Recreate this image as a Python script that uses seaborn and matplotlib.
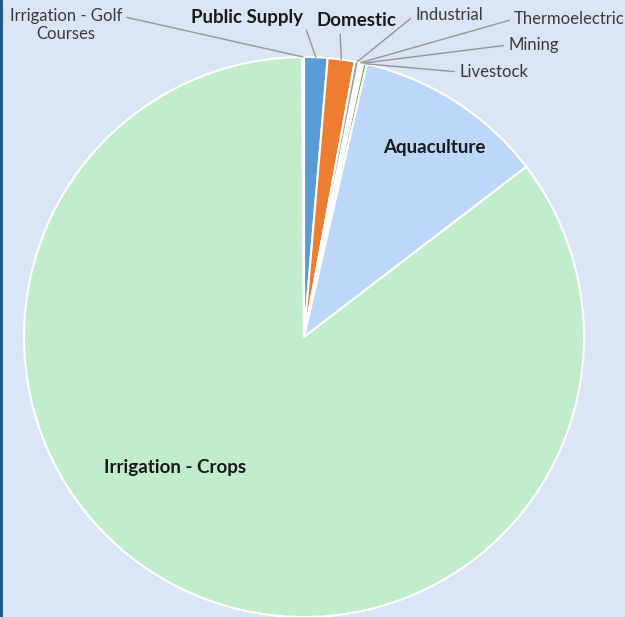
import numpy as np
import matplotlib
matplotlib.use("Agg")
import matplotlib.pyplot as plt
import seaborn as sns
from matplotlib.patches import Rectangle

# water use by category, percent of total
categories = ["Public Supply", "Domestic", "Industrial", "Thermoelectric", "Mining",
              "Livestock", "Aquaculture", "Irrigation - Crops", "Irrigation - Golf\nCourses"]
shares = [1.35, 1.55, 0.25, 0.15, 0.1, 0.2, 11.0, 85.3, 0.1]
colors = ["#5B9BD5", "#ED7D31", "#A5A5A5", "#F4F4F4", "#D9D9D9",
          "#70AD47", "#BDD7FB", "#C1EDCC", "#9DC3E6"]
bold_labels = {"Public Supply", "Domestic", "Aquaculture", "Irrigation - Crops"}

W, H = 625, 617
CX, CY, R = 304, 337, 280  # pie centre / radius in pixels


def to_data(px, py):
    return (px - CX) / R, (CY - py) / R


# label layout: (x px, y px, ha, va, relpos for leader line or None)
label_layout = {
    "Public Supply": (303, 17, "right", "center", (1.0, 0.3)),
    "Domestic": (316, 21, "left", "center", (0.3, 0.0)),
    "Industrial": (415, 15, "left", "center", (0.0, 0.5)),
    "Thermoelectric": (514, 19, "left", "center", (0.0, 0.5)),
    "Mining": (508, 45, "left", "center", (0.0, 0.5)),
    "Livestock": (459, 72, "left", "center", (0.0, 0.5)),
    "Aquaculture": (434, 148, "center", "center", None),
    "Irrigation - Crops": (175, 467, "center", "center", None),
    "Irrigation - Golf\nCourses": (66, 25, "center", "center", (1.0, 0.75)),
}


def main():
    sns.set_theme(style="white")
    plt.rcParams["font.family"] = ["Lato", "DejaVu Sans"]

    fig = plt.figure(figsize=(W / 100, H / 100), dpi=100)
    fig.patch.set_facecolor("#DAE5F5")
    ax = fig.add_axes([0, 0, 1, 1])
    ax.set_facecolor("#DAE5F5")

    wedges, _ = ax.pie(
        shares, colors=colors, startangle=90, counterclock=False, radius=1,
        wedgeprops=dict(edgecolor="white", linewidth=1.5),
    )
    # pixel scale is the same on both axes, so no aspect box shrinking needed
    ax.set_aspect("auto")
    ax.set_xlim(-CX / R, (W - CX) / R)
    ax.set_ylim(-(H - CY) / R, CY / R)
    ax.axis("off")

    total = sum(shares)
    cum = np.cumsum([0] + shares[:-1]) / total
    for cat, start, val in zip(categories, cum, shares):
        x, y, ha, va, rel = label_layout[cat]
        tx, ty = to_data(x, y)
        bold = cat in bold_labels
        kw = dict(ha=ha, va=va, fontsize=13.5 if bold else 12,
                  fontweight="bold" if bold else "normal",
                  color="#1a1a1a" if bold else "#3a3a3a", multialignment="center")
        if rel is None:
            ax.text(tx, ty, cat, **kw)
        else:
            mid = np.deg2rad(90 - 360 * (start + val / total / 2))
            ax.annotate(cat, xy=(np.cos(mid), np.sin(mid)), xytext=(tx, ty),
                        arrowprops=dict(arrowstyle="-", color="#969696", lw=1.0,
                                        shrinkA=1, shrinkB=0, relpos=rel),
                        **kw)

    # dark strip along the left edge
    fig.patches.append(Rectangle((0, 0), 3 / W, 1, transform=fig.transFigure,
                                 facecolor="#1F5C8B", edgecolor="none", zorder=10))

    fig.savefig("out.png", dpi=100, facecolor=fig.get_facecolor())
    plt.close(fig)


if __name__ == "__main__":
    main()
